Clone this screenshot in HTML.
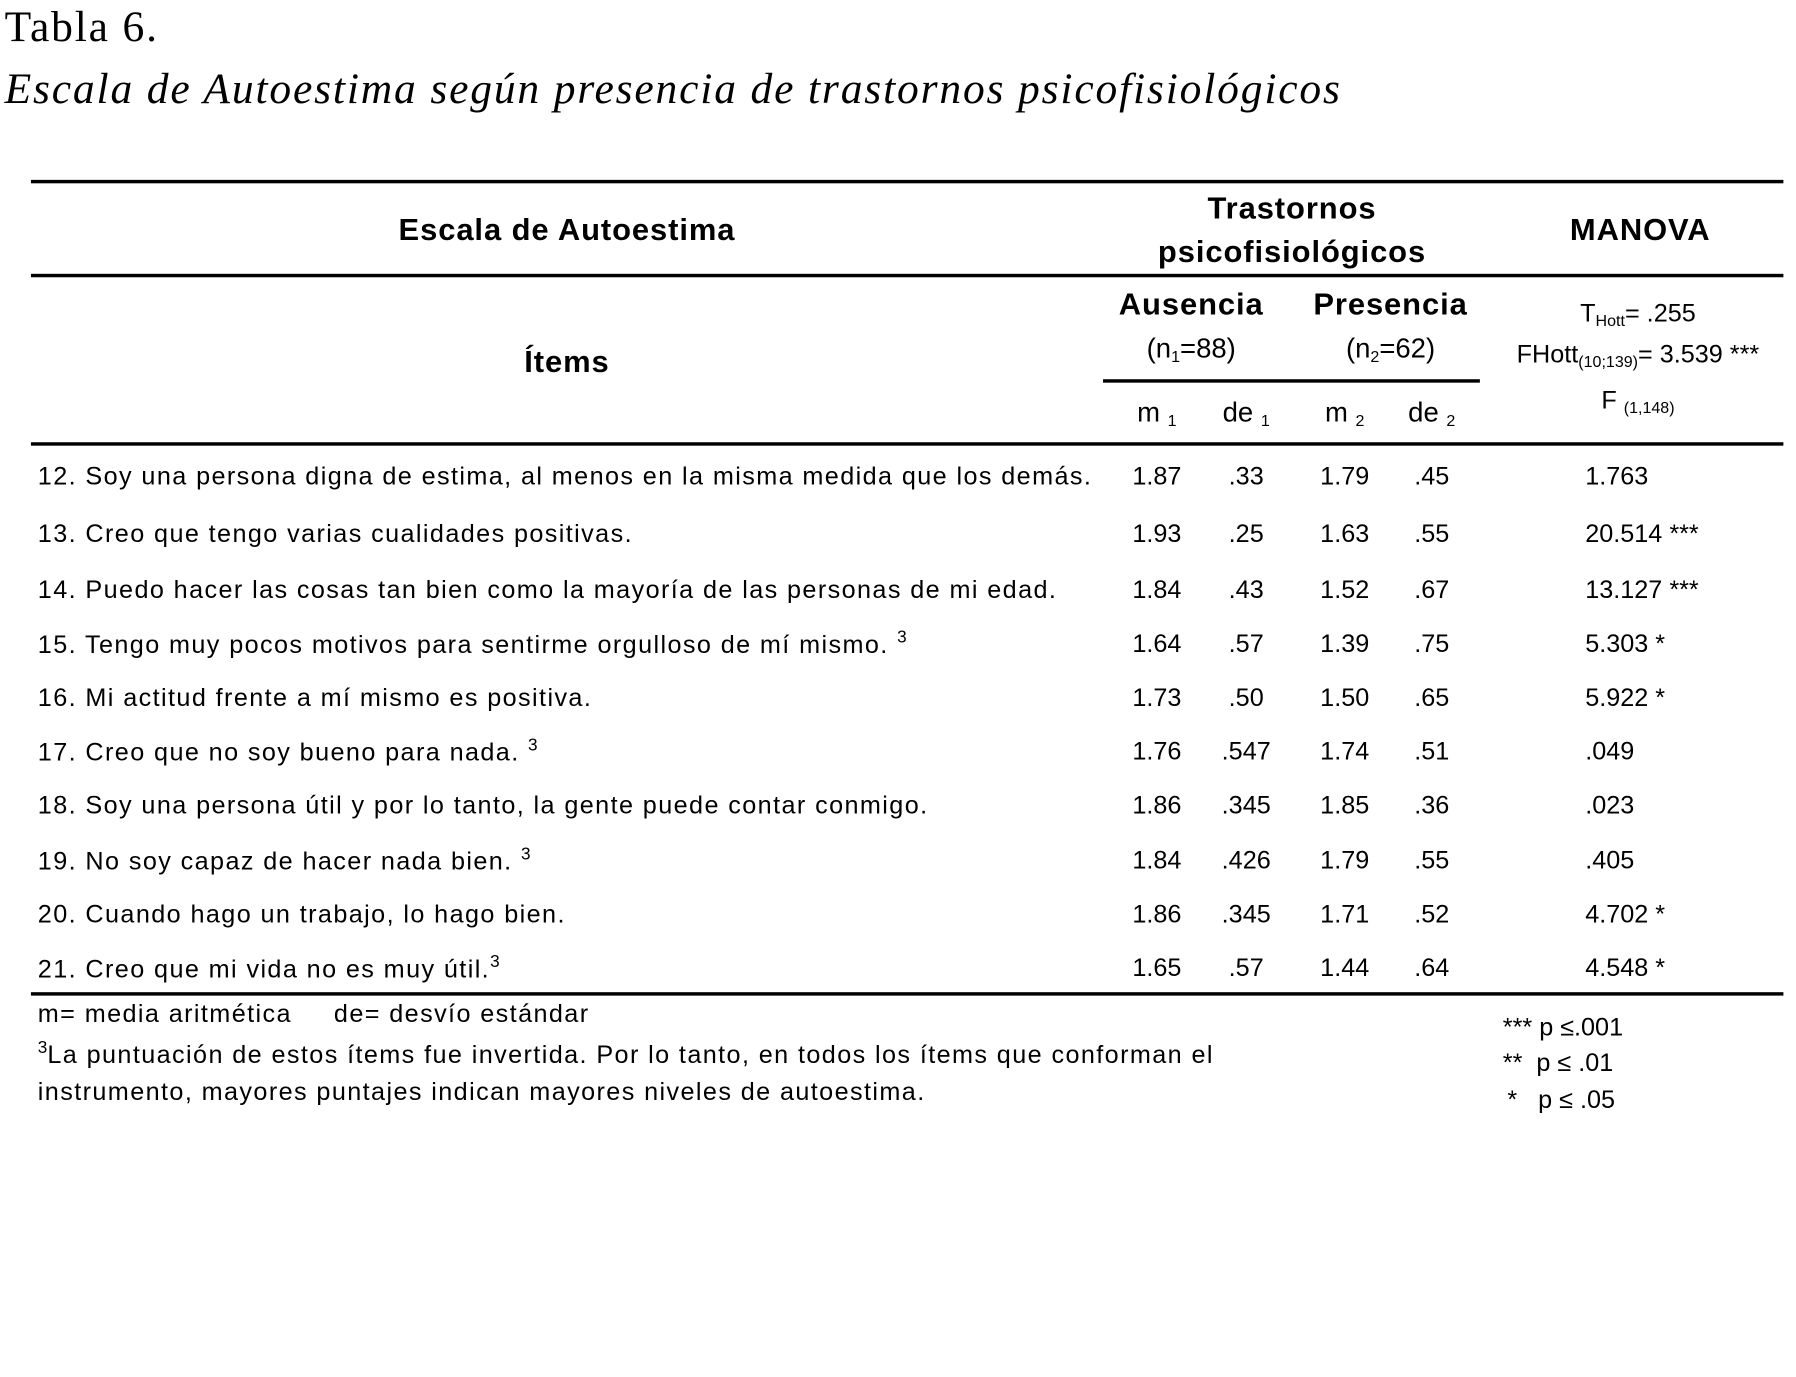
<!DOCTYPE html>
<html><head><meta charset="utf-8"><style>
html,body{margin:0;padding:0;background:#fff;}
body{width:1796px;height:1376px;overflow:hidden;position:relative;}
#w{position:absolute;left:0;top:0;width:1568px;height:1202px;transform:scale(1.14541,1.1457);transform-origin:0 0;font-family:"Liberation Sans",Arial,sans-serif;color:#000;}
.a{position:absolute;white-space:nowrap;}
.c{position:absolute;white-space:nowrap;transform:translate(-50%,-50%);}
.l{position:absolute;white-space:nowrap;transform:translateY(-50%);}
.r{position:absolute;background:#000;}
.b{font-weight:bold;font-size:27px;letter-spacing:0.8px;}
.t{font-size:22px;}
.s{letter-spacing:1.22px;}
sub{font-size:14px;vertical-align:-4px;letter-spacing:0;}
sup{font-size:15px;vertical-align:9px;letter-spacing:0;}
</style></head><body><div id="w">
<div class="a" style="left:4px;top:2px;font-family:'Liberation Serif',serif;font-size:38px;letter-spacing:1.6px;">Tabla 6.</div>
<div class="a" style="left:4px;top:56px;font-family:'Liberation Serif',serif;font-size:38px;font-style:italic;letter-spacing:1.6px;">Escala de Autoestima según presencia de trastornos psicofisiológicos</div>

<div class="r" style="left:27px;top:157px;width:1530px;height:3px;"></div>
<div class="c b" style="left:495px;top:201px;">Escala de Autoestima</div>
<div class="c b" style="left:1128px;top:182px;">Trastornos</div>
<div class="c b" style="left:1128px;top:220px;">psicofisiológicos</div>
<div class="c b" style="left:1432px;top:201px;">MANOVA</div>
<div class="r" style="left:27px;top:239px;width:1530px;height:3px;"></div>

<div class="c b" style="left:495px;top:316px;">Ítems</div>
<div class="c b" style="left:1040px;top:266px;">Ausencia</div>
<div class="c b" style="left:1214px;top:266px;">Presencia</div>
<div class="c t" style="left:1040px;top:305px;font-size:24px;">(n<sub>1</sub>=88)</div>
<div class="c t" style="left:1214px;top:305px;font-size:24px;">(n<sub>2</sub>=62)</div>
<div class="r" style="left:963px;top:331px;width:329px;height:3px;"></div>
<div class="c t" style="left:1010px;top:361px;font-size:24px;">m <sub>1</sub></div>
<div class="c t" style="left:1088px;top:361px;font-size:24px;">de <sub>1</sub></div>
<div class="c t" style="left:1174px;top:361px;font-size:24px;">m <sub>2</sub></div>
<div class="c t" style="left:1250px;top:361px;font-size:24px;">de <sub>2</sub></div>
<div class="c t" style="left:1430px;top:274px;">T<sub>Hott</sub>= .255</div>
<div class="c t" style="left:1430px;top:310px;">FHott<sub>(10;139)</sub>= 3.539 ***</div>
<div class="c t" style="left:1430px;top:350px;">F <sub>(1,148)</sub></div>
<div class="r" style="left:27px;top:386px;width:1530px;height:3px;"></div>

<div class="l t s" style="left:33px;top:416px;">12. Soy una persona digna de estima, al menos en la misma medida que los demás.</div>
<div class="l t s" style="left:33px;top:466px;">13. Creo que tengo varias cualidades positivas.</div>
<div class="l t s" style="left:33px;top:515px;">14. Puedo hacer las cosas tan bien como la mayoría de las personas de mi edad.</div>
<div class="l t s" style="left:33px;top:562px;">15. Tengo muy pocos motivos para sentirme orgulloso de mí mismo. <sup>3</sup></div>
<div class="l t s" style="left:33px;top:609px;">16. Mi actitud frente a mí mismo es positiva.</div>
<div class="l t s" style="left:33px;top:656px;">17. Creo que no soy bueno para nada. <sup>3</sup></div>
<div class="l t s" style="left:33px;top:703px;">18. Soy una persona útil y por lo tanto, la gente puede contar conmigo.</div>
<div class="l t s" style="left:33px;top:751px;">19. No soy capaz de hacer nada bien. <sup>3</sup></div>
<div class="l t s" style="left:33px;top:798px;">20. Cuando hago un trabajo, lo hago bien.</div>
<div class="l t s" style="left:33px;top:845px;">21. Creo que mi vida no es muy útil.<sup>3</sup></div>

<div class="c t" style="left:1010px;top:416px;">1.87</div><div class="c t" style="left:1088px;top:416px;">.33</div><div class="c t" style="left:1174px;top:416px;">1.79</div><div class="c t" style="left:1250px;top:416px;">.45</div><div class="l t" style="left:1384px;top:416px;">1.763</div>
<div class="c t" style="left:1010px;top:466px;">1.93</div><div class="c t" style="left:1088px;top:466px;">.25</div><div class="c t" style="left:1174px;top:466px;">1.63</div><div class="c t" style="left:1250px;top:466px;">.55</div><div class="l t" style="left:1384px;top:466px;">20.514 ***</div>
<div class="c t" style="left:1010px;top:515px;">1.84</div><div class="c t" style="left:1088px;top:515px;">.43</div><div class="c t" style="left:1174px;top:515px;">1.52</div><div class="c t" style="left:1250px;top:515px;">.67</div><div class="l t" style="left:1384px;top:515px;">13.127 ***</div>
<div class="c t" style="left:1010px;top:562px;">1.64</div><div class="c t" style="left:1088px;top:562px;">.57</div><div class="c t" style="left:1174px;top:562px;">1.39</div><div class="c t" style="left:1250px;top:562px;">.75</div><div class="l t" style="left:1384px;top:562px;">5.303 *</div>
<div class="c t" style="left:1010px;top:609px;">1.73</div><div class="c t" style="left:1088px;top:609px;">.50</div><div class="c t" style="left:1174px;top:609px;">1.50</div><div class="c t" style="left:1250px;top:609px;">.65</div><div class="l t" style="left:1384px;top:609px;">5.922 *</div>
<div class="c t" style="left:1010px;top:656px;">1.76</div><div class="c t" style="left:1088px;top:656px;">.547</div><div class="c t" style="left:1174px;top:656px;">1.74</div><div class="c t" style="left:1250px;top:656px;">.51</div><div class="l t" style="left:1384px;top:656px;">.049</div>
<div class="c t" style="left:1010px;top:703px;">1.86</div><div class="c t" style="left:1088px;top:703px;">.345</div><div class="c t" style="left:1174px;top:703px;">1.85</div><div class="c t" style="left:1250px;top:703px;">.36</div><div class="l t" style="left:1384px;top:703px;">.023</div>
<div class="c t" style="left:1010px;top:751px;">1.84</div><div class="c t" style="left:1088px;top:751px;">.426</div><div class="c t" style="left:1174px;top:751px;">1.79</div><div class="c t" style="left:1250px;top:751px;">.55</div><div class="l t" style="left:1384px;top:751px;">.405</div>
<div class="c t" style="left:1010px;top:798px;">1.86</div><div class="c t" style="left:1088px;top:798px;">.345</div><div class="c t" style="left:1174px;top:798px;">1.71</div><div class="c t" style="left:1250px;top:798px;">.52</div><div class="l t" style="left:1384px;top:798px;">4.702 *</div>
<div class="c t" style="left:1010px;top:845px;">1.65</div><div class="c t" style="left:1088px;top:845px;">.57</div><div class="c t" style="left:1174px;top:845px;">1.44</div><div class="c t" style="left:1250px;top:845px;">.64</div><div class="l t" style="left:1384px;top:845px;">4.548 *</div>

<div class="r" style="left:27px;top:866px;width:1530px;height:3px;"></div>
<div class="l t s" style="left:33px;top:885px;">m= media aritmética&nbsp;&nbsp;&nbsp;&nbsp; de= desvío estándar</div>
<div class="l t s" style="left:33px;top:920px;"><sup>3</sup>La puntuación de estos ítems fue invertida. Por lo tanto, en todos los ítems que conforman el</div>
<div class="l t s" style="left:33px;top:953px;">instrumento, mayores puntajes indican mayores niveles de autoestima.</div>
<div class="l t" style="left:1312px;top:897px;">*** p ≤.001</div>
<div class="l t" style="left:1312px;top:928px;">**&nbsp; p ≤ .01</div>
<div class="l t" style="left:1316px;top:960px;">*&nbsp;&nbsp; p ≤ .05</div>
</div></body></html>
